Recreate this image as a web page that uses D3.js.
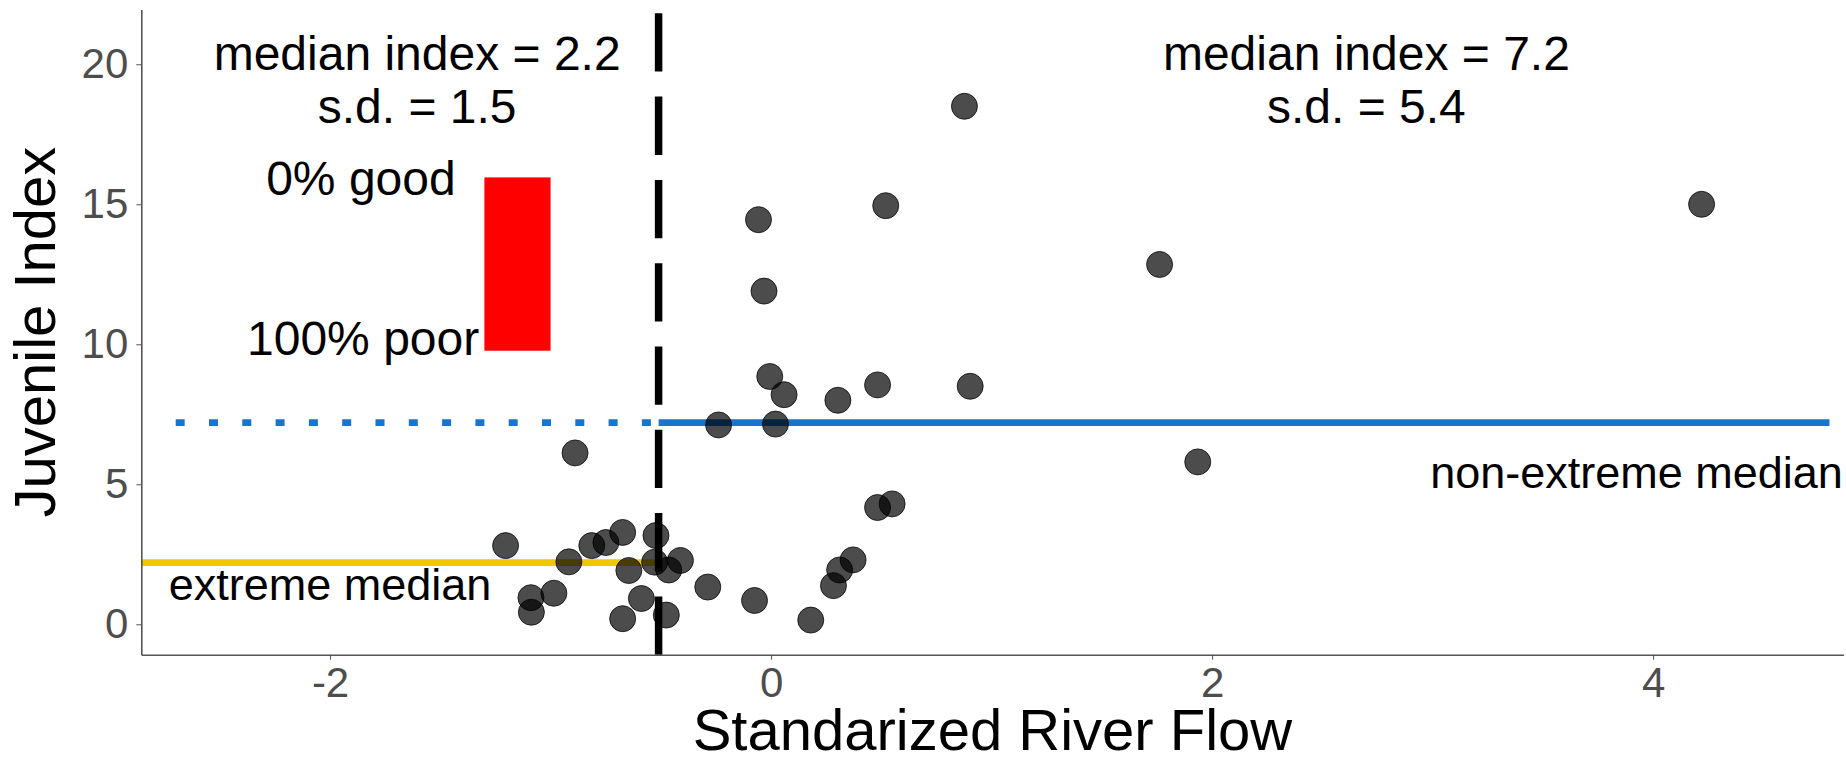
<!DOCTYPE html>
<html>
<head>
<meta charset="utf-8">
<script src="https://cdn.jsdelivr.net/npm/d3@7"></script>
<style>
  body { margin: 0; background: #fff; }
  svg { display: block; font-family: "Liberation Sans", Arial, sans-serif; }
</style>
</head>
<body>
<svg width="1846" height="763"></svg>
<script>
// river flow (x) and juvenile index (y) for each year
const flow = [
  0.877, 4.22, 0.52, -0.057, 1.762, -0.032, -0.006, 0.059, 0.483, 0.903,
  0.303, -0.238, 0.02, 1.935, -0.889, 0.483, 0.549, -1.204, -0.917, -0.813,
  -0.749, -0.673, -0.522, -0.645, -0.528, -0.464, -0.411, -0.985, -1.089, -1.087,
  -0.588, -0.673, -0.475, -0.287, -0.075, 0.18, 0.372, 0.311, 0.283,
];
const juvIndex = [
  18.5, 15.0, 14.95, 14.45, 12.85, 11.9, 8.85, 8.2, 8.55, 8.5,
  8.0, 7.12, 7.15, 5.8, 6.12, 4.17, 4.3, 2.81, 2.23, 2.81,
  2.92, 3.28, 3.17, 1.92, 2.22, 1.94, 2.28, 1.11, 0.95, 0.43,
  0.92, 0.2, 0.33, 1.33, 0.85, 0.15, 2.3, 1.94, 1.38,
];
// tick values
const xTicks = [-2, 0, 2, 4];
const yTicks = [0, 5, 10, 15, 20];
// reference lines
const flowThreshold = -0.51;
const extremeMedian = 2.2;
const nonExtremeMedian = 7.2;
const dottedStart = -2.7;
const solidEnd = 4.8;
// red bar (flow range, index range)
const barFlow = [-1.3, -1.0];
const barIndex = [9.77, 15.96];
// text labels: [text, x, y (baseline), size class]
const labels = [
  ["median index = 2.2", -1.605, 19.8, "big"],
  ["s.d. = 1.5", -1.605, 17.9, "big"],
  ["median index = 7.2", 2.7, 19.8, "big"],
  ["s.d. = 5.4", 2.7, 17.9, "big"],
  ["0% good", -1.86, 15.33, "big"],
  ["100% poor", -1.85, 9.62, "big"],
  ["extreme median", -2.0, 0.87, "small"],
  ["non-extreme median", 3.925, 4.86, "small"],
];

const svg = d3.select("svg");
const width = +svg.attr("width");
const height = +svg.attr("height");
const margin = { top: 9.4, right: 2.4, bottom: 108.3, left: 141.3 };

const xScale = d3
  .scaleLinear()
  .domain([-2.856, 4.864])
  .range([margin.left, width - margin.right]);
const yScale = d3
  .scaleLinear()
  .domain([-1.086, 21.96])
  .range([height - margin.bottom, margin.top]);

// red bar
svg
  .append("rect")
  .attr("x", xScale(barFlow[0]))
  .attr("y", yScale(barIndex[1]))
  .attr("width", xScale(barFlow[1]) - xScale(barFlow[0]))
  .attr("height", yScale(barIndex[0]) - yScale(barIndex[1]))
  .attr("fill", "#ff0000");

// non-extreme median, dotted on the extreme side, solid on the other
svg
  .append("line")
  .attr("x1", xScale(dottedStart))
  .attr("x2", xScale(flowThreshold))
  .attr("y1", yScale(nonExtremeMedian))
  .attr("y2", yScale(nonExtremeMedian))
  .attr("stroke", "#1874cd")
  .attr("stroke-width", 6.7)
  .attr("stroke-dasharray", "9 24.3");
svg
  .append("line")
  .attr("x1", xScale(flowThreshold))
  .attr("x2", xScale(solidEnd))
  .attr("y1", yScale(nonExtremeMedian))
  .attr("y2", yScale(nonExtremeMedian))
  .attr("stroke", "#1874cd")
  .attr("stroke-width", 6.7);

// extreme median
svg
  .append("line")
  .attr("x1", xScale.range()[0])
  .attr("x2", xScale(flowThreshold))
  .attr("y1", yScale(extremeMedian))
  .attr("y2", yScale(extremeMedian))
  .attr("stroke", "#eec900")
  .attr("stroke-width", 6.7);

// threshold between extreme and non-extreme flow
svg
  .append("line")
  .attr("x1", xScale(flowThreshold))
  .attr("x2", xScale(flowThreshold))
  .attr("y1", yScale(21.82))
  .attr("y2", yScale.range()[0])
  .attr("stroke", "#000")
  .attr("stroke-width", 7.5)
  .attr("stroke-dasharray", "58.3 25");

// points
svg
  .append("g")
  .selectAll("circle")
  .data(flow.map((d, i) => [d, juvIndex[i]]))
  .enter()
  .append("circle")
  .attr("cx", (d) => xScale(d[0]))
  .attr("cy", (d) => yScale(d[1]))
  .attr("r", 13)
  .attr("fill", "#000")
  .attr("fill-opacity", 0.7)
  .attr("stroke", "#000")
  .attr("stroke-opacity", 0.75)
  .attr("stroke-width", 1);

// axes, no outer ticks
const xAxisG = svg
  .append("g")
  .attr("transform", `translate(0,${yScale.range()[0]})`)
  .call(d3.axisBottom(xScale).tickValues(xTicks).tickSize(5).tickSizeOuter(0).tickPadding(7));
const yAxisG = svg
  .append("g")
  .attr("transform", `translate(${xScale.range()[0]},0)`)
  .call(d3.axisLeft(yScale).tickValues(yTicks).tickSize(5).tickSizeOuter(0).tickPadding(8));
[xAxisG, yAxisG].forEach((g) => {
  g.select(".domain").attr("stroke", "#555").attr("stroke-width", 1.6);
  g.selectAll(".tick line").attr("stroke", "#555").attr("stroke-width", 1);
  g.selectAll(".tick text")
    .attr("fill", "#4d4d4d")
    .attr("font-size", "42px")
    .attr("font-family", "Liberation Sans, Arial, sans-serif")
    .text((d) => (d < 0 ? "-" + Math.abs(d) : d));
});

// axis titles
svg
  .append("text")
  .attr("x", (xScale.range()[0] + xScale.range()[1]) / 2)
  .attr("y", 750)
  .attr("text-anchor", "middle")
  .attr("font-size", "58px")
  .text("Standarized River Flow");
svg
  .append("text")
  .attr("transform", `translate(55,${(yScale.range()[0] + yScale.range()[1]) / 2}) rotate(-90)`)
  .attr("text-anchor", "middle")
  .attr("font-size", "58px")
  .text("Juvenile Index");

// annotations
svg
  .append("g")
  .selectAll("text")
  .data(labels)
  .enter()
  .append("text")
  .attr("x", (d) => xScale(d[1]))
  .attr("y", (d) => yScale(d[2]))
  .attr("text-anchor", "middle")
  .attr("font-size", (d) => (d[3] == "big" ? "48px" : "45px"))
  .attr("fill", "#000")
  .text((d) => d[0]);
</script>
</body>
</html>
